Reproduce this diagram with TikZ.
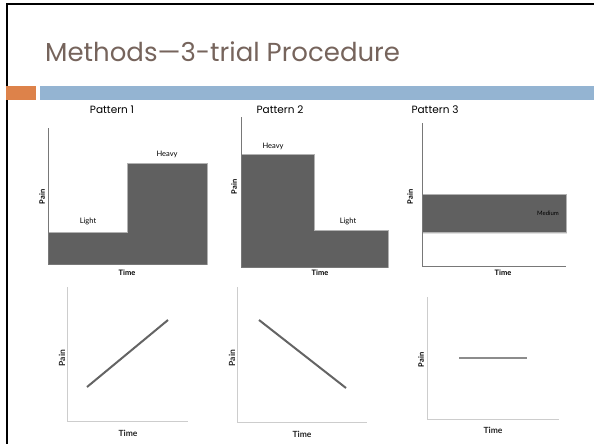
\documentclass[tikz,border=0pt]{standalone}
\usepackage{fontspec}
\setmainfont{Poppins}
\newfontfamily\labfont{Lato}
\definecolor{titlec}{RGB}{118,100,92}
\definecolor{orangec}{RGB}{221,130,74}
\definecolor{bluec}{RGB}{148,180,210}
\definecolor{darkfill}{RGB}{96,96,96}
\definecolor{axisdark}{RGB}{120,120,120}
\definecolor{axislight}{RGB}{205,205,205}
\definecolor{linec}{RGB}{100,100,100}
\definecolor{linelight}{RGB}{140,140,140}
\tikzset{
  patlabel/.style={font=\fontsize{10.5}{12}\selectfont, inner sep=0pt},
  smalllab/.style={font=\labfont\fontsize{7.5}{8}\selectfont, inner sep=0pt},
  axlab/.style={font=\labfont\bfseries\fontsize{7.5}{8}\selectfont, inner sep=0pt},
  axlabb/.style={font=\labfont\bfseries\fontsize{8.5}{9}\selectfont, inner sep=0pt, text=black!85},
  axdark/.style={draw=axisdark, line width=0.8pt},
  axlight/.style={draw=axislight, line width=1pt},
  block/.style={fill=darkfill, draw=black!30, line width=0.5pt},
}
\begin{document}
\begin{tikzpicture}[x=1pt,y=-1pt]
\useasboundingbox (0,0) rectangle (594,444);
\fill[white] (0,0) rectangle (594,444);
% slide border
\draw[line width=2pt] (7,444) -- (7,4) -- (594,4);
% title
\node[anchor=base west, text=titlec, font=\fontsize{26}{28}\selectfont, inner sep=0pt] (title) at (45,62) {Methods—3-trial Procedure};
% bars
\fill[orangec] (6,86) rectangle (36,100);
\fill[bluec] (40,86) rectangle (594,100);
% pattern labels
\node[patlabel] (p1) at (112,110) {Pattern 1};
\node[patlabel] (p2) at (280,110) {Pattern 2};
\node[patlabel] (p3) at (435,110) {Pattern 3};

% ---- chart 1
\draw[block] (48,264) -- (48,232) -- (127,232) -- (127,163) -- (207,163) -- (207,264) -- cycle;
\draw[axdark] (48,128) -- (48,264) -- (207,264);
\node[smalllab] (h1) at (167,154) {Heavy};
\node[smalllab] (l1) at (88,221) {Light};
\node[axlab, rotate=90] (pain1) at (42,197) {Pain};
\node[axlab] (time1) at (127,273) {Time};

% ---- chart 2
\draw[block] (241,267) -- (241,154) -- (314,154) -- (314,230) -- (388,230) -- (388,267) -- cycle;
\draw[axdark] (241,117) -- (241,267) -- (388,267);
\node[smalllab] (h2) at (273,146) {Heavy};
\node[smalllab] (l2) at (348,221) {Light};
\node[axlab, rotate=90] (pain2) at (234,187) {Pain};
\node[axlab] (time2) at (320,273) {Time};

% ---- chart 3
\fill[black!12] (423,195) rectangle (567,233.5);
\draw[block] (422,194) rectangle (566,232);
\draw[axdark] (422,123) -- (422,266) -- (566,266);
\node[font=\labfont\fontsize{6}{6}\selectfont, inner sep=0pt, text=black] (m3) at (548,213) {Medium};
\node[axlab, rotate=90] (pain3) at (410,197) {Pain};
\node[axlab] (time3) at (503,273) {Time};

% ---- line chart 1
\draw[axlight] (67,287) -- (67,421) -- (188,421);
\coordinate (a1) at (87,387);
\coordinate (b1) at (168,320);
\draw[linec, line width=2pt] (a1) -- (b1);
\node[axlabb, rotate=90] (pain4) at (62,358) {Pain};
\node[axlabb] (time4) at (128,433) {Time};

% ---- line chart 2
\draw[axlight] (237,287) -- (237,422) -- (367,422);
\coordinate (a2) at (259,320);
\coordinate (b2) at (346,388);
\draw[linec, line width=2pt] (a2) -- (b2);
\node[axlabb, rotate=90] (pain5) at (232,358) {Pain};
\node[axlabb] (time5) at (302,434) {Time};

% ---- line chart 3
\draw[axlight] (427,297) -- (427,419) -- (559,419);
\coordinate (a3) at (459,358);
\coordinate (b3) at (527,358);
\draw[linelight, line width=2pt] (a3) -- (b3);
\node[axlab, rotate=90] (pain6) at (421,360) {Pain};
\node[axlabb] (time6) at (493,430) {Time};
\end{tikzpicture}
\end{document}
